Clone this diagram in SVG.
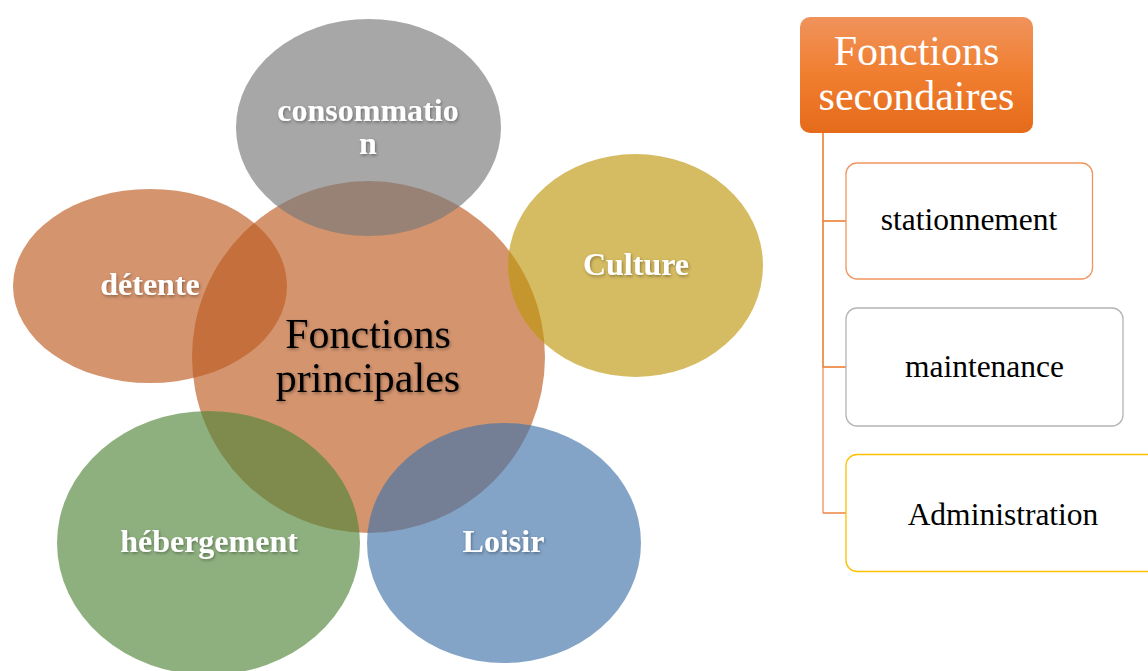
<svg xmlns="http://www.w3.org/2000/svg" width="1148" height="671" viewBox="0 0 1148 671">
  <defs>
    <linearGradient id="hdr" x1="0" y1="0" x2="0" y2="1">
      <stop offset="0" stop-color="#f0935c"/>
      <stop offset="0.5" stop-color="#f07e2f"/>
      <stop offset="1" stop-color="#e56b1a"/>
    </linearGradient>
    <filter id="ts" x="-10%" y="-30%" width="120%" height="160%">
      <feDropShadow dx="1" dy="1.5" stdDeviation="1.5" flood-color="#000" flood-opacity="0.35"/>
    </filter>
    <filter id="soft" x="-5%" y="-5%" width="110%" height="110%">
      <feGaussianBlur stdDeviation="0.7"/>
    </filter>
  </defs>
  <style>
    .ell { opacity: 0.65; }
    .lbl { font-family: "Liberation Serif", "Times New Roman", serif; font-weight: bold; font-size: 32px; fill: #ffffff; text-anchor: middle; }
    .ctr { font-family: "Liberation Serif", "Times New Roman", serif; font-size: 42px; fill: #000000; text-anchor: middle; }
    .hdr { font-family: "Liberation Serif", "Times New Roman", serif; font-size: 42px; fill: #ffffff; text-anchor: middle; }
    .box { fill: #ffffff; stroke-width: 1.3; }
    .btx { font-family: "Liberation Serif", "Times New Roman", serif; font-size: 31.5px; fill: #000000; text-anchor: middle; }
    .con { fill: none; stroke-width: 1.6; }
  </style>
  <rect width="1148" height="671" fill="#ffffff"/>

  <g id="venn">
    <g id="node-central">
      <ellipse class="ell" cx="368.5" cy="357" rx="176.5" ry="176" fill="#bd5c22" filter="url(#soft)"/>
    </g>
    <g id="node-consommation">
      <ellipse class="ell" cx="368.5" cy="127.5" rx="132.5" ry="108.5" fill="#797979" filter="url(#soft)"/>
    </g>
    <g id="node-detente">
      <ellipse class="ell" cx="150" cy="286" rx="137" ry="97" fill="#bd5c22" filter="url(#soft)"/>
    </g>
    <g id="node-culture">
      <ellipse class="ell" cx="635.5" cy="265.5" rx="127.5" ry="111.5" fill="#c09811" filter="url(#soft)"/>
    </g>
    <g id="node-hebergement">
      <ellipse class="ell" cx="208.5" cy="543" rx="151.5" ry="132" fill="#53873a" filter="url(#soft)"/>
    </g>
    <g id="node-loisir">
      <ellipse class="ell" cx="504" cy="543" rx="137" ry="120" fill="#4375aa" filter="url(#soft)"/>
    </g>
    <g id="labels">
      <text class="ctr" x="368" y="348" filter="url(#ts)">Fonctions</text>
      <text class="ctr" x="368" y="392" filter="url(#ts)">principales</text>
      <text class="lbl" x="368" y="121" filter="url(#ts)">consommatio</text>
      <text class="lbl" x="368" y="154" filter="url(#ts)">n</text>
      <text class="lbl" x="150" y="295" filter="url(#ts)">détente</text>
      <text class="lbl" x="636" y="275" filter="url(#ts)">Culture</text>
      <text class="lbl" x="209" y="552" filter="url(#ts)">hébergement</text>
      <text class="lbl" x="503.5" y="552" filter="url(#ts)">Loisir</text>
    </g>
  </g>

  <g id="connectors">
    <path class="con" stroke="#ed7d31" d="M823 133 V367"/>
    <path class="con" stroke="#f3a475" d="M823 367 V513"/>
    <path class="con" stroke="#ed7d31" d="M823 221 H846"/>
    <path class="con" stroke="#ed7d31" d="M823 367 H846"/>
    <path class="con" stroke="#ef8a4c" d="M823 513 H846"/>
  </g>

  <g id="node-fonctions-secondaires">
    <rect x="800" y="17" width="233" height="116" rx="10" fill="url(#hdr)"/>
    <text class="hdr" x="916.5" y="65">Fonctions</text>
    <text class="hdr" x="916.5" y="110">secondaires</text>
  </g>
  <g id="node-stationnement">
    <rect class="box" x="846" y="163" width="246.5" height="116" rx="11" stroke="#f0955e"/>
    <text class="btx" x="969" y="230">stationnement</text>
  </g>
  <g id="node-maintenance">
    <rect class="box" x="846" y="308" width="277" height="118" rx="11" stroke="#b4b4b4"/>
    <text class="btx" x="984.5" y="377">maintenance</text>
  </g>
  <g id="node-administration">
    <rect class="box" x="846" y="454.5" width="316" height="117" rx="11" stroke="#ffc000"/>
    <text class="btx" x="1003" y="525">Administration</text>
  </g>
</svg>
